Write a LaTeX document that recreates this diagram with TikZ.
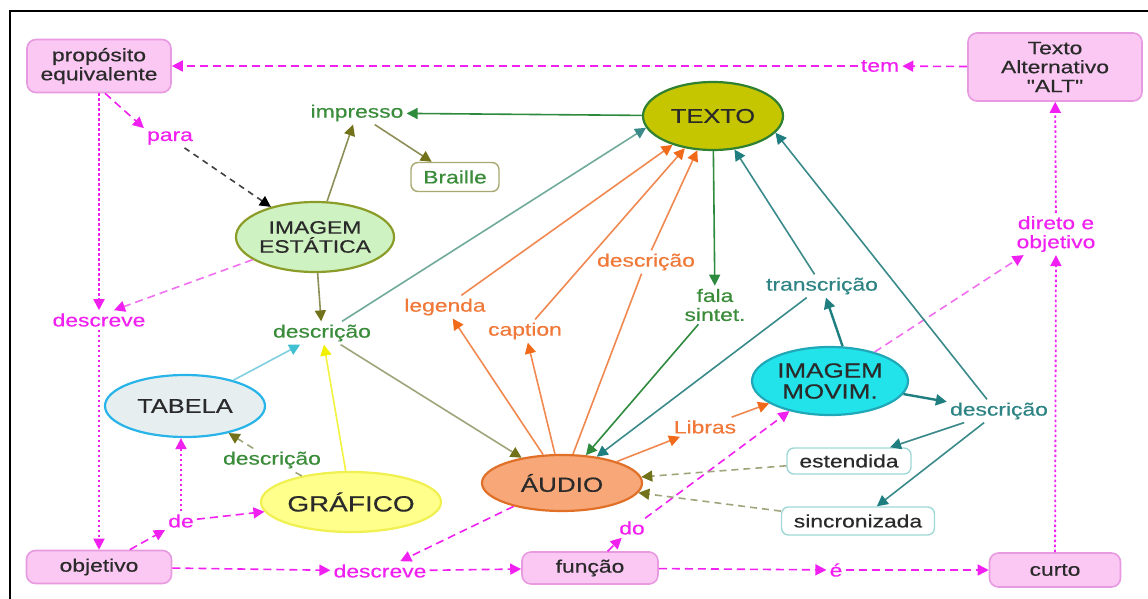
\documentclass[tikz,border=0pt]{standalone}
\usepackage{fontspec}
\setmainfont[FakeStretch=1.27,FakeBold=0.5,Ligatures=TeXOff]{Liberation Sans}
\usetikzlibrary{arrows.meta,shapes.geometric}
\definecolor{mag}{HTML}{F020F0}
\definecolor{lmag}{HTML}{F070F0}
\definecolor{pinkfill}{HTML}{FAC8F3}
\definecolor{pinkdraw}{HTML}{E79AE0}
\definecolor{txt}{HTML}{2A2A2A}
\definecolor{grtext}{HTML}{3A8C3A}
\definecolor{grline}{HTML}{2E8B3E}
\definecolor{olivetip}{HTML}{72721A}
\definecolor{oliveline}{HTML}{8E8E58}
\definecolor{olivegray}{HTML}{A0A47A}
\definecolor{texfill}{HTML}{C6C600}
\definecolor{texdraw}{HTML}{2F8030}
\definecolor{imgefill}{HTML}{CFF2C2}
\definecolor{imgedraw}{HTML}{8C9C28}
\definecolor{tabfill}{HTML}{E6EEF0}
\definecolor{tabdraw}{HTML}{28B4E8}
\definecolor{grafill}{HTML}{FFFF8C}
\definecolor{gradraw}{HTML}{F0F050}
\definecolor{audfill}{HTML}{F8A878}
\definecolor{auddraw}{HTML}{E07028}
\definecolor{movfill}{HTML}{22E2EA}
\definecolor{movdraw}{HTML}{20A8B8}
\definecolor{orline}{HTML}{F08850}
\definecolor{ortip}{HTML}{F06A1A}
\definecolor{ortext}{HTML}{F07838}
\definecolor{tealline}{HTML}{3A8A8A}
\definecolor{tealtip}{HTML}{1E7E80}
\definecolor{tealtext}{HTML}{2E8484}
\definecolor{tealgray}{HTML}{6FAA9A}
\definecolor{cyanline}{HTML}{80D0E0}
\definecolor{cyantip}{HTML}{40C0D0}
\definecolor{yelline}{HTML}{F2F240}
\definecolor{yeltip}{HTML}{F0F000}
\definecolor{braidraw}{HTML}{A8A870}
\definecolor{tboxdraw}{HTML}{A0D8D8}
\begin{document}
\begin{tikzpicture}[x=1pt,y=-1pt,
  box/.style={draw=pinkdraw, fill=pinkfill, rounded corners=9pt, line width=1.6pt, align=center, text=txt, font=\fontsize{18}{19}\selectfont, inner sep=2pt},
  ell/.style={ellipse, line width=2.2pt, inner sep=0pt, align=center, text=txt},
  lab/.style={align=center, font=\fontsize{18}{19}\selectfont, inner sep=3pt},
  tbox/.style={rounded corners=7pt, line width=1.4pt, fill=white, font=\fontsize{18}{19}\selectfont, inner sep=2pt},
  arrtip/.style={-{Triangle[length=11pt,width=11pt,color=#1]}},
  con/.style={line width=1.6pt},
  mdash/.style={con, draw=mag, dash pattern=on 8pt off 5pt, arrtip=mag},
  lmdash/.style={con, draw=lmag, dash pattern=on 8pt off 5pt, arrtip=mag},
  mdot/.style={con, draw=mag, line width=1.8pt, dash pattern=on 2.5pt off 2.5pt, arrtip=mag},
  olivecon/.style={con, draw=oliveline, arrtip=olivetip},
  greencon/.style={con, draw=grline, arrtip=grline},
  orcon/.style={con, draw=orline, arrtip=ortip},
  tealcon/.style={con, draw=tealline, arrtip=tealtip},
  tealthick/.style={con, line width=2.4pt, draw=tealtip, arrtip=tealtip},
  olivedash/.style={con, draw=olivegray, dash pattern=on 7pt off 5pt, arrtip=olivetip}
]
\useasboundingbox (0,0) rectangle (1148,599);
\draw[line width=2pt] (10,599) -- (10,11) -- (1148,11);

% boxes
\node[box, minimum width=144pt, minimum height=53pt] (prop) at (99,66) {propósito\\equivalente};
\node[box, minimum width=174pt, minimum height=68pt] (alt) at (1055,67) {Texto\\Alternativo\\"ALT"};
\node[box, minimum width=145pt, minimum height=33pt] (obj) at (99,567) {objetivo};
\node[box, minimum width=136pt, minimum height=32pt] (func) at (590,568) {função};
\node[box, minimum width=131pt, minimum height=34pt] (curto) at (1055,570) {curto};

% ellipses
\node[ell, draw=texdraw, fill=texfill, minimum width=140pt, minimum height=68pt, font=\fontsize{20}{21}\selectfont] (texto) at (713,116) {TEXTO};
\node[ell, draw=imgedraw, fill=imgefill, minimum width=156pt, minimum height=70pt, font=\fontsize{18}{19}\selectfont] (imgE) at (315,237) {IMAGEM\\ESTÁTICA};
\node[ell, draw=tabdraw, fill=tabfill, minimum width=160pt, minimum height=62pt, font=\fontsize{20}{21}\selectfont] (tabela) at (185,406) {TABELA};
\node[ell, draw=gradraw, fill=grafill, minimum width=164pt, minimum height=60pt, font=\fontsize{22}{23}\selectfont] (grafico) at (351,502) {GRÁFICO};
\node[ell, draw=auddraw, fill=audfill, minimum width=160pt, minimum height=56pt, font=\fontsize{20.5}{21}\selectfont] (audio) at (562,483) {ÁUDIO};
\node[ell, draw=movdraw, fill=movfill, minimum width=156pt, minimum height=68pt, font=\fontsize{20.5}{21}\selectfont] (imgM) at (830,381) {IMAGEM\\MOVIM.};

% magenta labels
\node[lab, text=mag] (tem) at (880,66) {tem};
\node[lab, text=mag] (para) at (170,138) {para};
\node[lab, text=mag] (descL) at (99,320) {descreve};
\node[lab, text=mag] (de) at (181,521) {de};
\node[lab, text=mag] (descB) at (380,571) {descreve};
\node[lab, text=mag] (do) at (632,528) {do};
\node[lab, text=mag] (eh) at (836,570) {é};
\node[lab, text=mag] (direto) at (1056,234) {direto e\\objetivo};

% green / olive labels
\node[lab, text=grtext] (impresso) at (357,113) {impresso};
\node[tbox, draw=braidraw, text=grtext, minimum width=88pt, minimum height=29pt] (braille) at (455,177) {Braille};
\node[lab, text=grtext] (descrG) at (322,333) {descrição};
\node[lab, text=grtext] (descrT) at (272,460) {descrição};
\node[lab, text=grtext] (fala) at (715,305) {fala\\sintet.};

% orange labels
\node[lab, text=ortext] (legenda) at (445,307) {legenda};
\node[lab, text=ortext] (caption) at (525,331) {caption};
\node[lab, text=ortext] (descrO) at (646,262) {descrição};
\node[lab, text=ortext] (libras) at (705,427) {Libras};

% teal labels
\node[lab, text=tealtext] (transcr) at (822,286) {transcrição};
\node[lab, text=tealtext] (descrR) at (999,411) {descrição};
\node[tbox, draw=tboxdraw, text=txt, minimum width=124pt, minimum height=26pt] (estendida) at (849,461) {estendida};
\node[tbox, draw=tboxdraw, text=txt, minimum width=153pt, minimum height=28pt] (sincr) at (858,521) {sincronizada};

% magenta connectors
\draw[mdash] (alt) -- (tem);
\draw[mdash] (tem) -- (prop);
\draw[mdash] ([xshift=6pt]prop.south) -- (para.north west);
\draw[con, draw=black!75, dash pattern=on 6pt off 5pt, arrtip=black] (para) -- (imgE);
\draw[mdot] (prop) -- (descL);
\draw[mdot] (descL) -- (obj);
\draw[lmdash] (imgE) -- ([xshift=15pt]descL.north);
\draw[mdash] (obj) -- (de);
\draw[mdot] (de.north) -- (de.north |- tabela.south);
\draw[mdash] (de) -- (grafico);
\draw[mdash] (obj) -- (descB);
\draw[mdash] (descB) -- (func);
\draw[mdash] (audio) -- (descB);
\draw[mdash] (func) -- (do);
\draw[mdash] (do) -- (imgM);
\draw[mdash] (func) -- (eh);
\draw[mdash] (eh) -- (curto);
\draw[mdot] (curto) -- (direto);
\draw[mdot] (direto) -- (alt);
\draw[lmdash] (imgM) -- (direto);

% olive / green connectors
\draw[olivecon] (imgE) -- (impresso);
\draw[olivecon] (impresso) -- (braille);
\draw[greencon] (texto) -- (impresso);
\draw[olivecon] (imgE) -- (descrG);
\draw[con, draw=tealgray, arrtip=tealline] ([xshift=20pt]descrG.north) -- (texto.190);
\draw[con, draw=olivegray, arrtip=olivetip] (descrG) -- (audio);
\draw[con, draw=cyanline, arrtip=cyantip] (tabela) -- (descrG);
\draw[con, draw=yelline, arrtip=yeltip] (grafico) -- (descrG);
\draw[con, draw=olivegray, dash pattern=on 7pt off 5pt] (grafico) -- (descrT);
\draw[olivedash] (descrT) -- (tabela);
\draw[greencon] (texto) -- (fala);
\draw[greencon] (fala) -- (audio);

% orange connectors
\draw[orcon] (audio) -- (legenda);
\draw[orcon] (legenda) -- (texto);
\draw[orcon] (audio) -- (caption);
\draw[orcon] (caption) -- (texto);
\draw[con, draw=orline] (audio) -- (descrO);
\draw[orcon] (descrO) -- (texto);
\draw[orcon] (audio) -- (libras);
\draw[orcon] (libras) -- (imgM);

% teal connectors
\draw[tealcon] (transcr) -- (texto);
\draw[tealcon] (transcr) -- (audio);
\draw[tealthick] (imgM.70) -- (transcr);
\draw[tealthick] (imgM) -- (descrR);
\draw[tealcon] (descrR) -- (estendida);
\draw[tealcon] (descrR) -- (sincr);
\draw[tealcon] ([xshift=-12pt]descrR.north) -- (texto.345);
\draw[olivedash] (estendida) -- (audio);
\draw[olivedash] (sincr) -- (audio);
\end{tikzpicture}
\end{document}
